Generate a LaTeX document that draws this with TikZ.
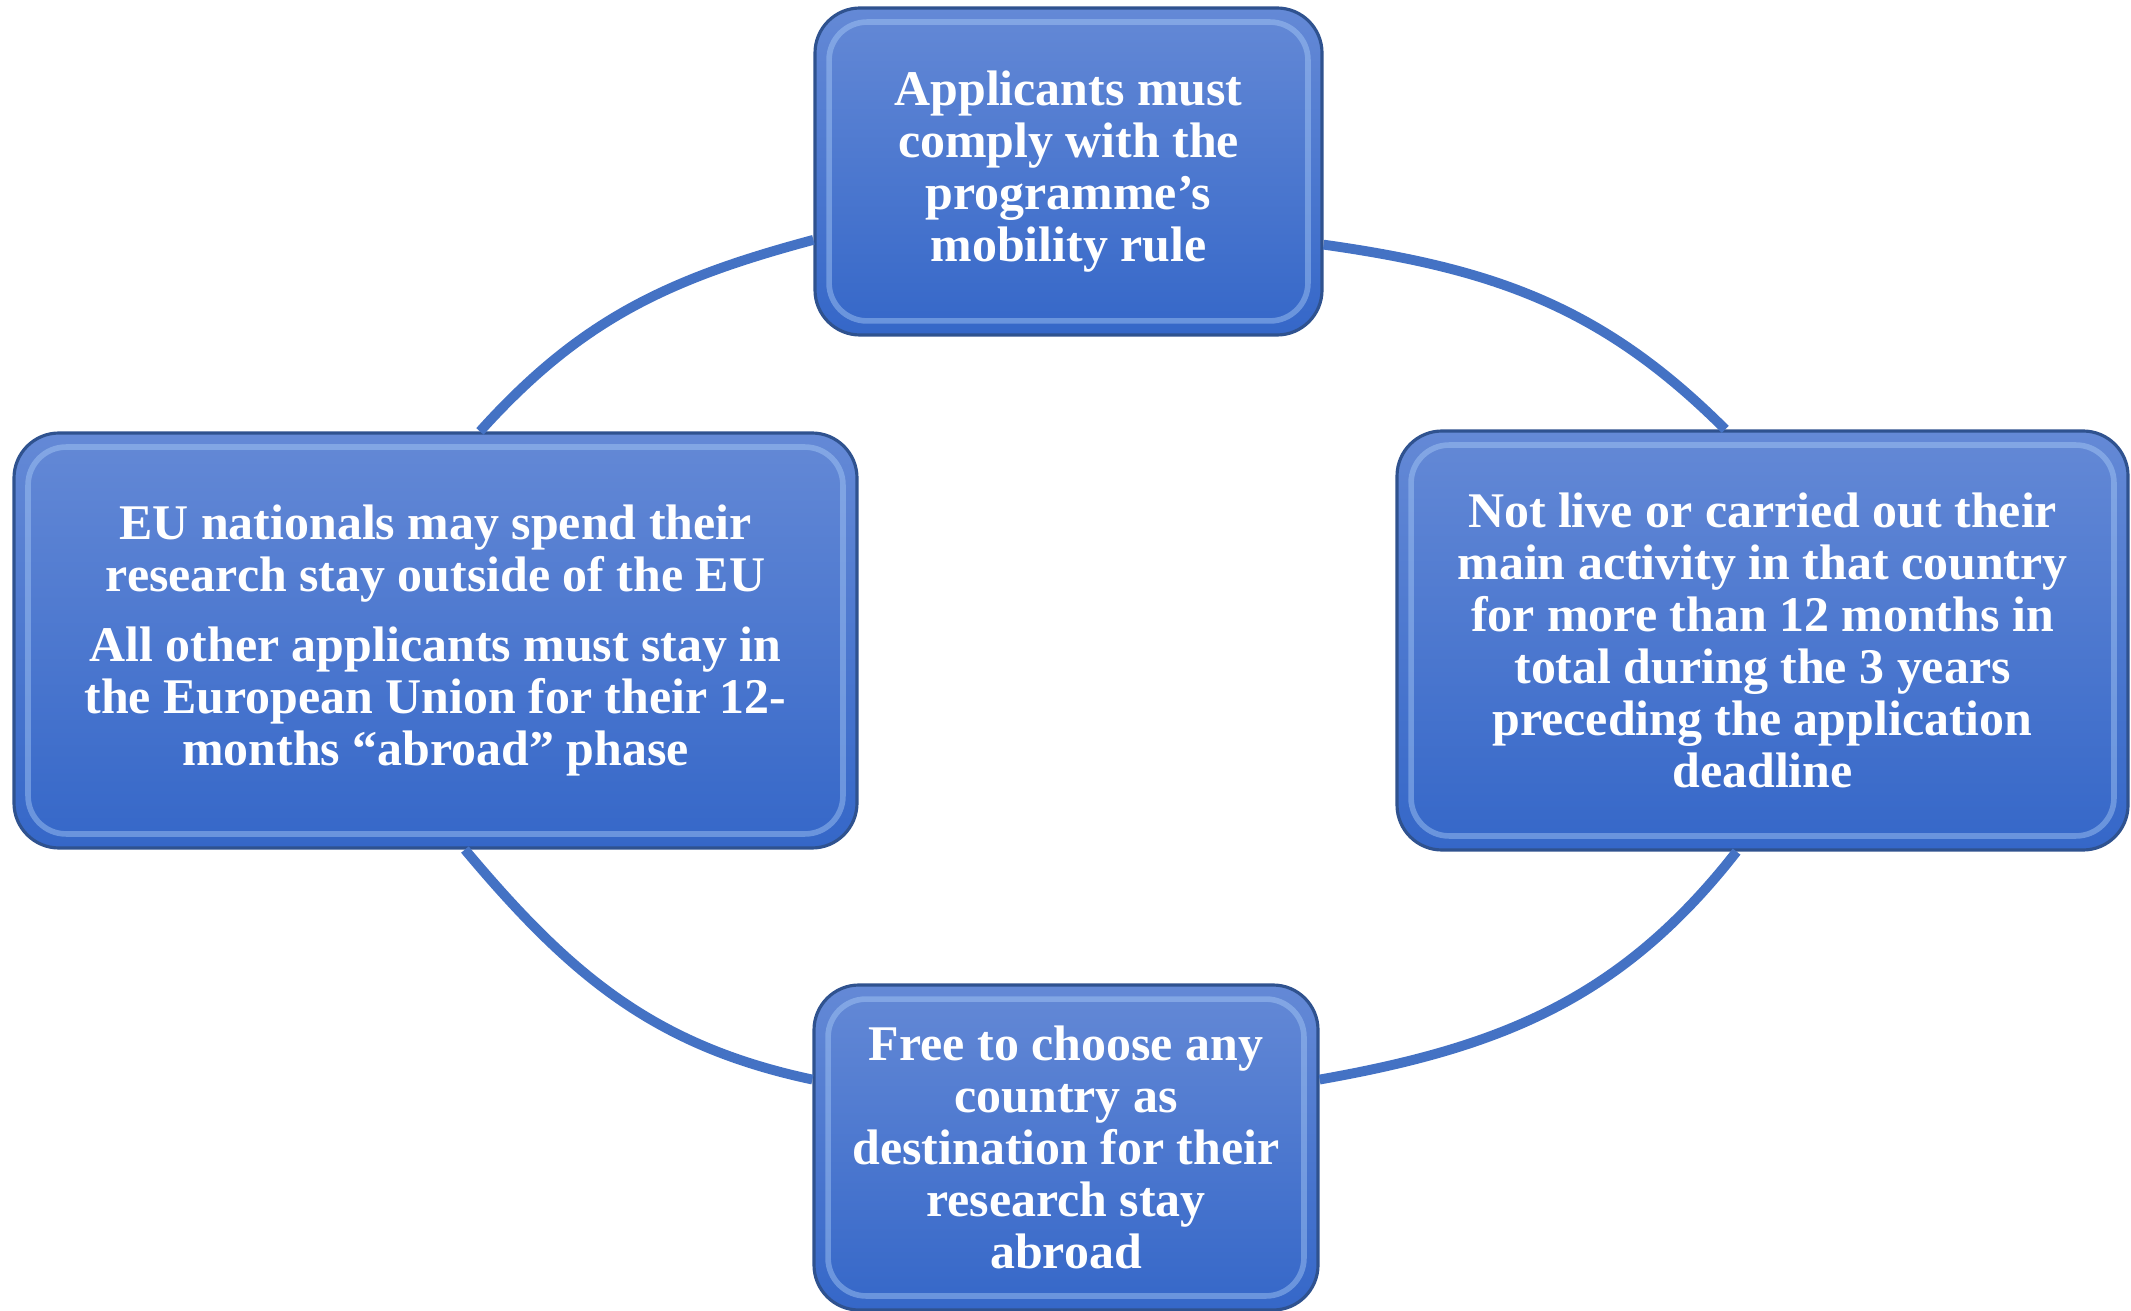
\documentclass[tikz,border=0pt]{standalone}
\usepackage{fontspec}
\setmainfont{Liberation Serif}

\definecolor{ringblue}{HTML}{4472C4}
\definecolor{boxtop}{HTML}{6489D6}
\definecolor{boxbot}{HTML}{3567C8}
\definecolor{boxedge}{HTML}{2F528F}
\definecolor{bevelblue}{HTML}{A9CBF7}

\tikzset{
  cyclebox/.style={rounded corners=0.45cm, draw=boxedge, line width=0.9pt,
    top color=boxtop, bottom color=boxbot, text=white, align=center,
    font=\bfseries\fontsize{14.2}{14.8}\selectfont, inner sep=0pt,
    path picture={\draw[bevelblue, opacity=0.45, line width=1.6pt, rounded corners=0.38cm]
      ([shift={(4pt,-4pt)}]path picture bounding box.north west) rectangle
      ([shift={(-4pt,4pt)}]path picture bounding box.south east);}},
  ring/.style={draw=ringblue, line width=2.8pt}
}

\begin{document}
\begin{tikzpicture}
\useasboundingbox (0,0) rectangle (21.31,13.10);
% the four boxes
\node[cyclebox, minimum width=5.07cm, minimum height=3.27cm] (rule) at (10.685,11.385)
  {Applicants must\\ comply with the\\ programme’s\\ mobility rule};
\node[cyclebox, minimum width=7.31cm, minimum height=4.19cm] (residence) at (17.625,6.695)
  {Not live or carried out their\\ main activity in that country\\ for more than 12 months in\\ total during the 3 years\\ preceding the application\\ deadline};
\node[cyclebox, minimum width=5.04cm, minimum height=3.25cm] (destination) at (10.66,1.625)
  {Free to choose any\\ country as\\ destination for their\\ research stay\\ abroad};
\node[cyclebox, minimum width=8.43cm, minimum height=4.15cm] (nationals) at (4.355,6.695)
  {EU nationals may spend their\\ research stay outside of the EU\\[5pt]
   All other applicants must stay in\\ the European Union for their 12-\\ months “abroad” phase};
% the ring between them
\draw[ring] (nationals.78.4) to[out=48, in=195] (rule.195.5);
\draw[ring] (rule.-16.6) to[out=-8, in=135] (residence.100.7);
\draw[ring] (residence.263) to[out=232, in=10] (destination.15);
\draw[ring] (destination.165.6) to[out=168, in=310] (nationals.278.4);
\end{tikzpicture}
\end{document}
